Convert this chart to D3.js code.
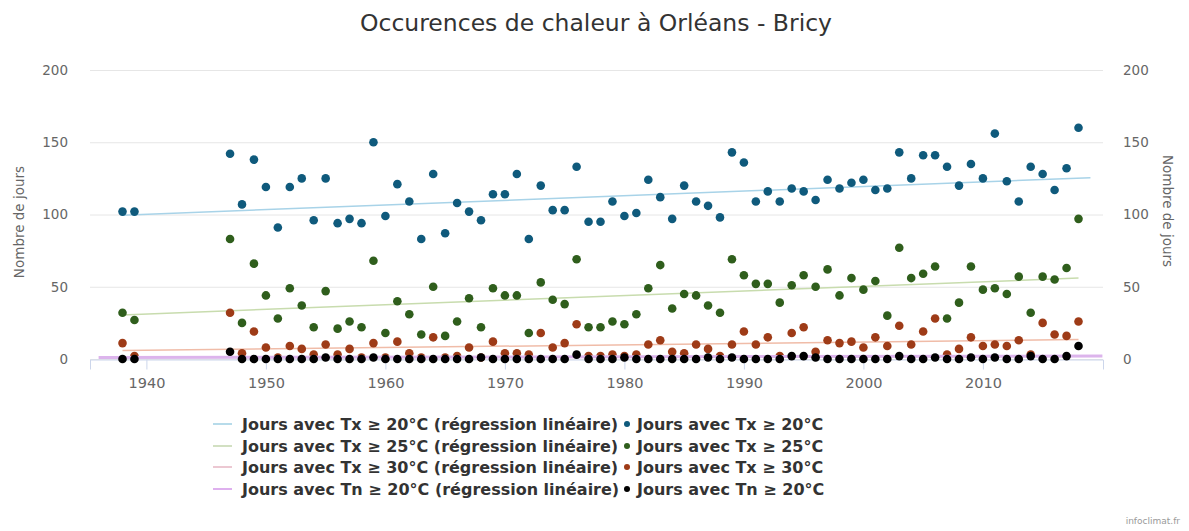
<!DOCTYPE html>
<html>
<head>
<meta charset="utf-8">
<script src="https://cdn.jsdelivr.net/npm/d3@7"></script>
<style>
  body { margin: 0; background: #fff; }
  svg { display: block; font-family: "DejaVu Sans", Verdana, sans-serif; }
</style>
</head>
<body>
<script>
// years with data (gap 1940-1946)
var years = [1938, 1939,
  1947, 1948, 1949, 1950, 1951, 1952, 1953, 1954, 1955, 1956, 1957, 1958, 1959,
  1960, 1961, 1962, 1963, 1964, 1965, 1966, 1967, 1968, 1969,
  1970, 1971, 1972, 1973, 1974, 1975, 1976, 1977, 1978, 1979,
  1980, 1981, 1982, 1983, 1984, 1985, 1986, 1987, 1988, 1989,
  1990, 1991, 1992, 1993, 1994, 1995, 1996, 1997, 1998, 1999,
  2000, 2001, 2002, 2003, 2004, 2005, 2006, 2007, 2008, 2009,
  2010, 2011, 2012, 2013, 2014, 2015, 2016, 2017, 2018];

var tx20 = [102, 102,
  142, 107, 138, 119, 91, 119, 125, 96, 125, 94, 97, 94, 150,
  99, 121, 109, 83, 128, 87, 108, 102, 96, 114,
  114, 128, 83, 120, 103, 103, 133, 95, 95, 109,
  99, 101, 124, 112, 97, 120, 109, 106, 98, 143,
  136, 109, 116, 109, 118, 116, 110, 124, 118, 122,
  124, 117, 118, 143, 125, 141, 141, 133, 120, 135,
  125, 156, 123, 109, 133, 128, 117, 132, 160];

var tx25 = [32, 27,
  83, 25, 66, 44, 28, 49, 37, 22, 47, 21, 26, 22, 68,
  18, 40, 31, 17, 50, 16, 26, 42, 22, 49,
  44, 44, 18, 53, 41, 38, 69, 22, 22, 26,
  24, 31, 49, 65, 35, 45, 44, 37, 32, 69,
  58, 52, 52, 39, 51, 58, 50, 62, 44, 56,
  48, 54, 30, 77, 56, 59, 64, 28, 39, 64,
  48, 49, 45, 57, 32, 57, 55, 63, 97];

var tx30 = [11, 2,
  32, 4, 19, 8, 1, 9, 7, 3, 10, 3, 7, 1, 11,
  1, 12, 4, 1, 15, 1, 2, 8, 1, 12,
  4, 4, 3, 18, 8, 11, 24, 2, 2, 3,
  2, 3, 10, 13, 5, 4, 10, 7, 2, 10,
  19, 10, 15, 2, 18, 22, 5, 13, 11, 12,
  8, 15, 9, 23, 10, 19, 28, 3, 7, 15,
  9, 10, 9, 13, 3, 25, 17, 16, 26];

var tn20 = [0, 0,
  5, 0, 0, 0, 0, 0, 0, 0, 1, 0, 0, 0, 1,
  0, 0, 0, 0, 0, 0, 0, 0, 1, 0,
  0, 0, 0, 0, 0, 0, 3, 0, 0, 0,
  1, 0, 0, 0, 0, 0, 0, 1, 0, 1,
  0, 0, 0, 0, 2, 2, 1, 0, 0, 0,
  0, 0, 0, 2, 0, 0, 1, 0, 0, 1,
  0, 1, 0, 0, 2, 0, 0, 2, 9];

// regression lines, end points [year, value]
var reg20 = [[1938, 99.5], [2019, 125.5]];
var reg25 = [[1938, 30.5], [2018, 56]];
var reg30 = [[1938, 5.8], [2018, 13.5]];
var regTn = [[1936, 1], [2020, 2]];

var xTicks = [1940, 1950, 1960, 1970, 1980, 1990, 2000, 2010];
var yTicks = [0, 50, 100, 150, 200];

var labels = ["Jours avec Tx \u2265 20\u00b0C", "Jours avec Tx \u2265 25\u00b0C",
              "Jours avec Tx \u2265 30\u00b0C", "Jours avec Tn \u2265 20\u00b0C"];

var dotColors = ["#0f5a7c", "#2f5e1c", "#9e3b17", "#000000"];
var lineColors = ["#a8d3e8", "#c8dcae", "#f0bca8", "#dcb4ec"];
var legendLineColors = ["#b7dbea", "#d2e0c2", "#ecc8d2", "#deb0ee"];

var W = 1189, H = 531;
var mLeft = 90, mRight = 1103, mTop = 70, mBottom = 359;

var svg = d3.select("body").append("svg")
  .attr("width", W).attr("height", H);

var x = d3.scaleLinear().domain([1935.28, 2020.05]).range([mLeft, mRight]);
var y = d3.scaleLinear().domain([0, 200]).range([mBottom, mTop]);

// title
svg.append("text")
  .attr("x", 596).attr("y", 31)
  .attr("text-anchor", "middle")
  .attr("font-size", 23.5)
  .attr("fill", "#333")
  .text("Occurences de chaleur \u00e0 Orl\u00e9ans - Bricy");

// grid
svg.append("g").selectAll("line")
  .data(yTicks).enter().append("line")
  .attr("x1", mLeft).attr("x2", mRight)
  .attr("y1", function(d) { return y(d) + 0.5; })
  .attr("y2", function(d) { return y(d) + 0.5; })
  .attr("stroke", "#e6e6e6").attr("stroke-width", 1);

// left / right y axis labels
var yAxisL = d3.axisLeft(y).tickValues(yTicks).tickSize(0).tickPadding(22);
var gl = svg.append("g").attr("transform", "translate(" + mLeft + ",0)").call(yAxisL);
var yAxisR = d3.axisRight(y).tickValues(yTicks).tickSize(0).tickPadding(20);
var gr = svg.append("g").attr("transform", "translate(" + mRight + ",0)").call(yAxisR);
[gl, gr].forEach(function(g) {
  g.select(".domain").remove();
  g.selectAll("text").attr("fill", "#666").attr("font-size", 13.5)
    .attr("font-family", "DejaVu Sans, sans-serif");
});

// x axis
var xAxis = d3.axisBottom(x).tickValues(xTicks).tickFormat(d3.format("d"))
  .tickSize(10).tickPadding(8);
var gx = svg.append("g").attr("transform", "translate(0," + (mBottom + 0.5) + ")").call(xAxis);
gx.select(".domain").attr("stroke", "#ccd6eb");
gx.selectAll(".tick line").attr("stroke", "#ccd6eb");
gx.selectAll("text").attr("fill", "#666").attr("font-size", 14.5)
  .attr("font-family", "DejaVu Sans, sans-serif");

// axis titles
svg.append("text")
  .attr("transform", "translate(24,222) rotate(-90)")
  .attr("text-anchor", "middle").attr("font-size", 13.5).attr("fill", "#666")
  .text("Nombre de jours");
svg.append("text")
  .attr("transform", "translate(1163,211) rotate(90)")
  .attr("text-anchor", "middle").attr("font-size", 13.5).attr("fill", "#666")
  .text("Nombre de jours");

var series = [tx20, tx25, tx30, tn20];
var regs = [reg20, reg25, reg30, regTn];

var line = d3.line()
  .x(function(d) { return x(d[0]); })
  .y(function(d) { return y(d[1]); });

series.forEach(function(s, i) {
  svg.append("path")
    .datum(regs[i])
    .attr("d", line)
    .attr("fill", "none")
    .attr("stroke", lineColors[i])
    .attr("stroke-width", i == 3 ? 3 : 1.5);

  svg.append("g").selectAll("circle")
    .data(years).enter().append("circle")
    .attr("cx", function(d) { return x(d); })
    .attr("cy", function(d, j) { return y(s[j]); })
    .attr("r", 4.3)
    .attr("fill", dotColors[i]);
});

// legend
var rowY = [424, 446, 467, 489];
var lg = svg.append("g").attr("font-size", 16).attr("font-weight", "bold").attr("fill", "#333");
labels.forEach(function(l, i) {
  lg.append("line")
    .attr("x1", 213).attr("x2", 232)
    .attr("y1", rowY[i]).attr("y2", rowY[i])
    .attr("stroke", legendLineColors[i]).attr("stroke-width", 2);
  lg.append("text")
    .attr("x", 242).attr("y", rowY[i] + 5.5)
    .text(l + " (r\u00e9gression lin\u00e9aire)");
  lg.append("circle")
    .attr("cx", 627).attr("cy", rowY[i]).attr("r", 3)
    .attr("fill", dotColors[i]);
  lg.append("text")
    .attr("x", 637).attr("y", rowY[i] + 5.5)
    .text(l);
});

// credit
svg.append("text")
  .attr("x", 1180).attr("y", 524)
  .attr("text-anchor", "end").attr("font-size", 9).attr("fill", "#999")
  .text("infoclimat.fr");
</script>
</body>
</html>
